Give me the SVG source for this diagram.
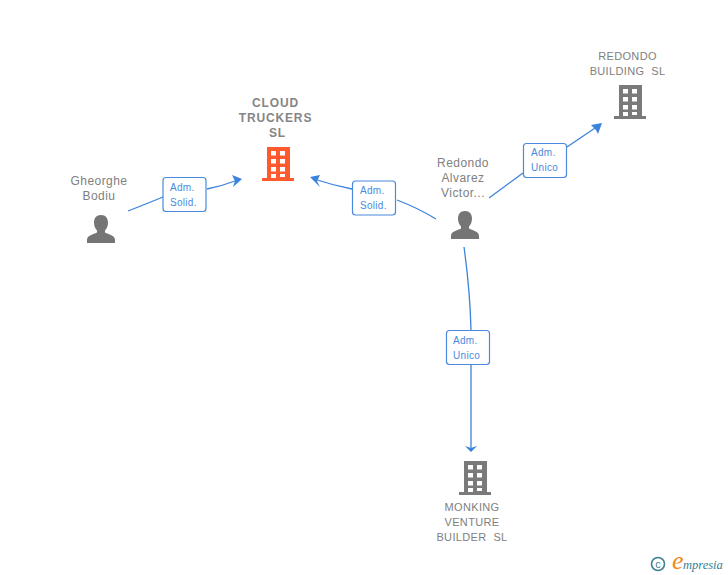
<svg xmlns="http://www.w3.org/2000/svg" width="728" height="575" viewBox="0 0 728 575">
<style>
.n{font-family:"Liberation Sans",Arial,sans-serif;font-size:12px;fill:#808080;text-anchor:middle;letter-spacing:.45px}
.c{font-size:11px;letter-spacing:.35px}
.b{font-weight:bold;font-size:12px;letter-spacing:.85px;fill:#858585}
.e{fill:none;stroke:#3b82dc;stroke-width:1.3}
.a{fill:#3b82dc}
.lb{fill:#fff;stroke:#4a8ade;stroke-width:1.2}
.lt{font-family:"Liberation Sans",Arial,sans-serif;font-size:10px;fill:#4a8ade;letter-spacing:.3px}
</style>
<defs>
<g id="bld">
<path fill-rule="evenodd" d="M5 0H28V31H32V34H0V31H5ZM9 4V8.500H14V4ZM18 4V8.500H23V4ZM9 12V16.500H14V12ZM18 12V16.500H23V12ZM9 20V24.500H14V20ZM18 20V24.500H23V20ZM9 27V31H14V27ZM18 27V30H23V27Z"/>
</g>
<g id="per">
<path fill="#757575" d="M14 0C18.800 0 21 3.500 21 7.500C21 10.500 20 13.500 18 15.500V17.500C21.500 19.500 28 20 28 25V28H0V25C0 20 6.500 19.500 10 17.500V15.500C8 13.500 7 10.500 7 7.500C7 3.500 9.200 0 14 0Z"/>
</g>
</defs>
<g id="connectors">
<path class="e" d="M128 211Q146 204 163 197"/>
<path class="e" d="M207 189Q222 186 238 180"/>
<path class="a" d="M242 179L232 175L235 181L233 187Z"/>
<path class="e" d="M436 219Q418 208 397 200"/>
<path class="e" d="M352 189Q332 185 314 179"/>
<path class="a" d="M310 177L320 175L317 181L320 187Z"/>
<path class="e" d="M489 198L523 173"/>
<path class="e" d="M567 147L598 126"/>
<path class="a" d="M602 123L591 125L596 130L598 134Z"/>
<path class="e" d="M464 247Q470 290 471 330"/>
<path class="e" d="M471 365L471 448"/>
<path class="a" d="M471 452L465 446L471 448L477 446Z"/>
</g>
<g id="n-cloud">
<use href="#bld" x="262" y="147" fill="#ff5a2e"/>
<text class="n b" x="275.500" y="107">CLOUD</text>
<text class="n b" x="275.500" y="122">TRUCKERS</text>
<text class="n b" x="277.500" y="137">SL</text>
</g>
<g id="n-gheorghe">
<use href="#per" x="87" y="215"/>
<text class="n" x="99" y="185">Gheorghe</text>
<text class="n" x="99" y="200">Bodiu</text>
</g>
<g id="n-redondo-victor">
<use href="#per" x="451" y="211"/>
<text class="n" x="463" y="167">Redondo</text>
<text class="n" x="463" y="182">Alvarez</text>
<text class="n" x="463" y="197">Victor...</text>
</g>
<g id="n-redondo-building">
<use href="#bld" x="614" y="85" fill="#7a7a7a"/>
<text class="n c" x="627.500" y="60">REDONDO</text>
<text class="n c" x="627.500" y="75" xml:space="preserve">BUILDING  SL</text>
</g>
<g id="n-monking">
<use href="#bld" x="459" y="461" fill="#7a7a7a"/>
<text class="n c" x="472" y="511">MONKING</text>
<text class="n c" x="472" y="526">VENTURE</text>
<text class="n c" x="472" y="541" xml:space="preserve">BUILDER  SL</text>
</g>
<g id="l1">
<rect class="lb" x="163" y="177.500" width="43" height="34" rx="3"/>
<text class="lt" x="170" y="191">Adm.</text><text class="lt" x="170" y="206">Solid.</text>
</g>
<g id="l2">
<rect class="lb" x="352.500" y="181" width="43" height="34" rx="3"/>
<text class="lt" x="360" y="194">Adm.</text><text class="lt" x="360" y="209">Solid.</text>
</g>
<g id="l3">
<rect class="lb" x="523.500" y="143.500" width="43" height="34" rx="3"/>
<text class="lt" x="531" y="156">Adm.</text><text class="lt" x="531" y="171">Unico</text>
</g>
<g id="l4">
<rect class="lb" x="446.500" y="330.500" width="43" height="34" rx="3"/>
<text class="lt" x="453" y="344">Adm.</text><text class="lt" x="453" y="359">Unico</text>
</g>
<g id="logo">
<circle cx="658" cy="564" r="6.500" fill="none" stroke="#3f7f93" stroke-width="1.600"/>
<text x="658" y="568" font-family="Liberation Sans,sans-serif" font-size="11" fill="#3f7f93" text-anchor="middle">c</text>
<text x="672" y="569" font-family="Liberation Serif,serif" font-style="italic" font-size="26" fill="#f08a1d">e</text>
<text x="683" y="569" font-family="Liberation Serif,serif" font-style="italic" font-size="12.500" fill="#2f7f95">mpresia</text>
</g>
</svg>
